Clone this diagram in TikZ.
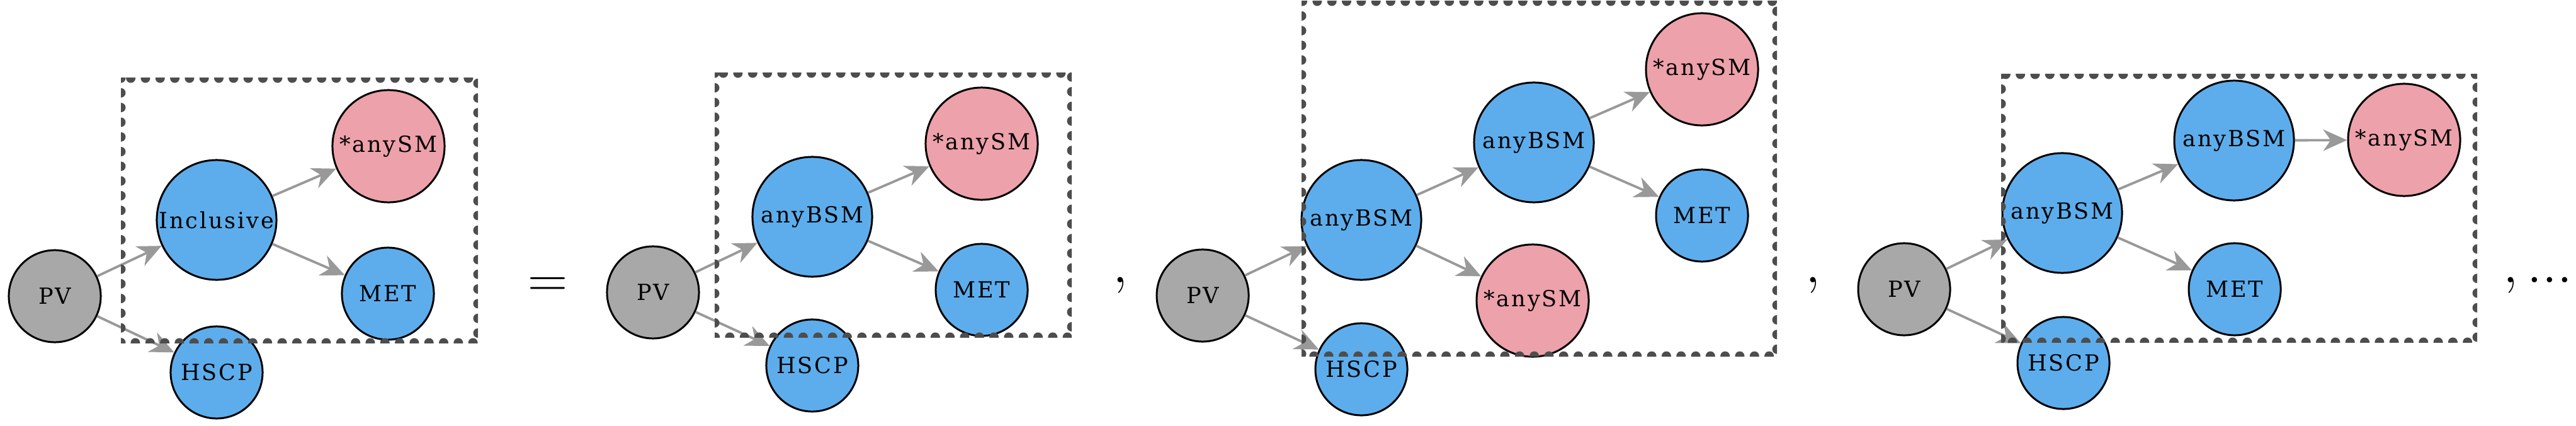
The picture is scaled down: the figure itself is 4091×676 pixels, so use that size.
\documentclass[tikz,border=0pt]{standalone}
\usepackage[no-math]{fontspec}
\setmainfont{DejaVu Serif}
\newfontfamily\nodefont[LetterSpace=8]{DejaVu Serif}
\usetikzlibrary{arrows.meta}
\definecolor{bsmblue}{HTML}{5DADEC}
\definecolor{smpink}{HTML}{EDA1AA}
\definecolor{pvgray}{HTML}{A8A8A8}
\definecolor{edgegray}{HTML}{999999}
\definecolor{boxgray}{HTML}{4D4D4D}

\begin{document}
\begin{tikzpicture}[x=0.01cm, y=-0.01cm] % координаты в пикселях, y вниз
\tikzstyle{mynode} = [circle, draw=black, line width=0.85pt, inner sep=0pt, font=\nodefont\fontsize{10}{12}\selectfont] % общий стиль узла
\tikzstyle{pvnode} = [mynode, fill=pvgray, minimum size=1.46cm] % первичная вершина
\tikzstyle{bsmnode} = [mynode, fill=bsmblue, minimum size=1.9cm] % большой синий узел
\tikzstyle{finalnode} = [mynode, fill=bsmblue, minimum size=1.46cm] % малый синий узел (MET, HSCP)
\tikzstyle{smnode} = [mynode, fill=smpink, minimum size=1.78cm] % розовый узел
\tikzstyle{myedge} = [draw=edgegray, line width=1.1pt, -{Stealth[length=0.38cm, width=0.34cm, inset=0.12cm]}] % стрелка
\tikzstyle{mybox} = [draw=boxgray, line width=0.15cm, line cap=round, dash pattern=on 0pt off 0.233cm] % пунктирная рамка
\tikzstyle{mymath} = [inner sep=0pt, font=\Huge] % знаки между графами

\useasboundingbox (0,0) rectangle (4091,676);

% первый граф
\node[pvnode] (pvA) at (87,470) {PV};
\node[bsmnode] (incA) at (344,349) {Inclusive};
\node[finalnode] (hscpA) at (344,591) {HSCP};
\node[smnode] (smA) at (617,232) {*anySM};
\node[finalnode] (metA) at (616,466) {MET};
\draw[myedge] (pvA) -- (incA);
\draw[myedge] (pvA) -- (hscpA);
\draw[myedge] (incA) -- (smA);
\draw[myedge] (incA) -- (metA);
\begin{scope}
\clip (192,124) rectangle (759,544);
\draw[mybox] (192,124) rectangle (759,544);
\end{scope}

\node[mymath, anchor=base] (eq) at (870,471) {$=$};

% второй граф
\node[pvnode] (pvB) at (1037,464) {PV};
\node[bsmnode] (bsmB) at (1290,344) {anyBSM};
\node[finalnode] (hscpB) at (1290,580) {HSCP};
\node[smnode] (smB) at (1559,228) {*anySM};
\node[finalnode] (metB) at (1559,460) {MET};
\draw[myedge] (pvB) -- (bsmB);
\draw[myedge] (pvB) -- (hscpB);
\draw[myedge] (bsmB) -- (smB);
\draw[myedge] (bsmB) -- (metB);
\begin{scope}
\clip (1135,116) rectangle (1702,535);
\draw[mybox] (1135,116) rectangle (1702,535);
\end{scope}

\node[mymath, anchor=base] (commaB) at (1779,448) {$,$};

% третий граф
\node[pvnode] (pvC) at (1910,469) {PV};
\node[bsmnode] (bsmC) at (2162,349) {anyBSM};
\node[finalnode] (hscpC) at (2162,586) {HSCP};
\node[bsmnode] (bsmCC) at (2436,226) {anyBSM};
\node[smnode] (smCC) at (2434,477) {*anySM};
\node[smnode] (smC) at (2703,110) {*anySM};
\node[finalnode] (metC) at (2703,342) {MET};
\draw[myedge] (pvC) -- (bsmC);
\draw[myedge] (pvC) -- (hscpC);
\draw[myedge] (bsmC) -- (bsmCC);
\draw[myedge] (bsmC) -- (smCC);
\draw[myedge] (bsmCC) -- (smC);
\draw[myedge] (bsmCC) -- (metC);
\begin{scope}
\clip (2067,2) rectangle (2822,565);
\draw[mybox] (2067,2) rectangle (2822,565);
\end{scope}

\node[mymath, anchor=base] (commaC) at (2879,448) {$,$};

% четвертый граф
\node[pvnode] (pvD) at (3024,459) {PV};
\node[bsmnode] (bsmD) at (3275,338) {anyBSM};
\node[finalnode] (hscpD) at (3277,576) {HSCP};
\node[bsmnode] (bsmDD) at (3548,223) {anyBSM};
\node[finalnode] (metD) at (3549,459) {MET};
\node[smnode] (smD) at (3818,222) {*anySM};
\draw[myedge] (pvD) -- (bsmD);
\draw[myedge] (pvD) -- (hscpD);
\draw[myedge] (bsmD) -- (bsmDD);
\draw[myedge] (bsmD) -- (metD);
\draw[myedge] (bsmDD) -- (smD);
\begin{scope}
\clip (3178,118) rectangle (3934,543);
\draw[mybox] (3178,118) rectangle (3934,543);
\end{scope}

\node[mymath, anchor=base west] (dotsD) at (3975,448) {$,...$};
\end{tikzpicture}
\end{document}
